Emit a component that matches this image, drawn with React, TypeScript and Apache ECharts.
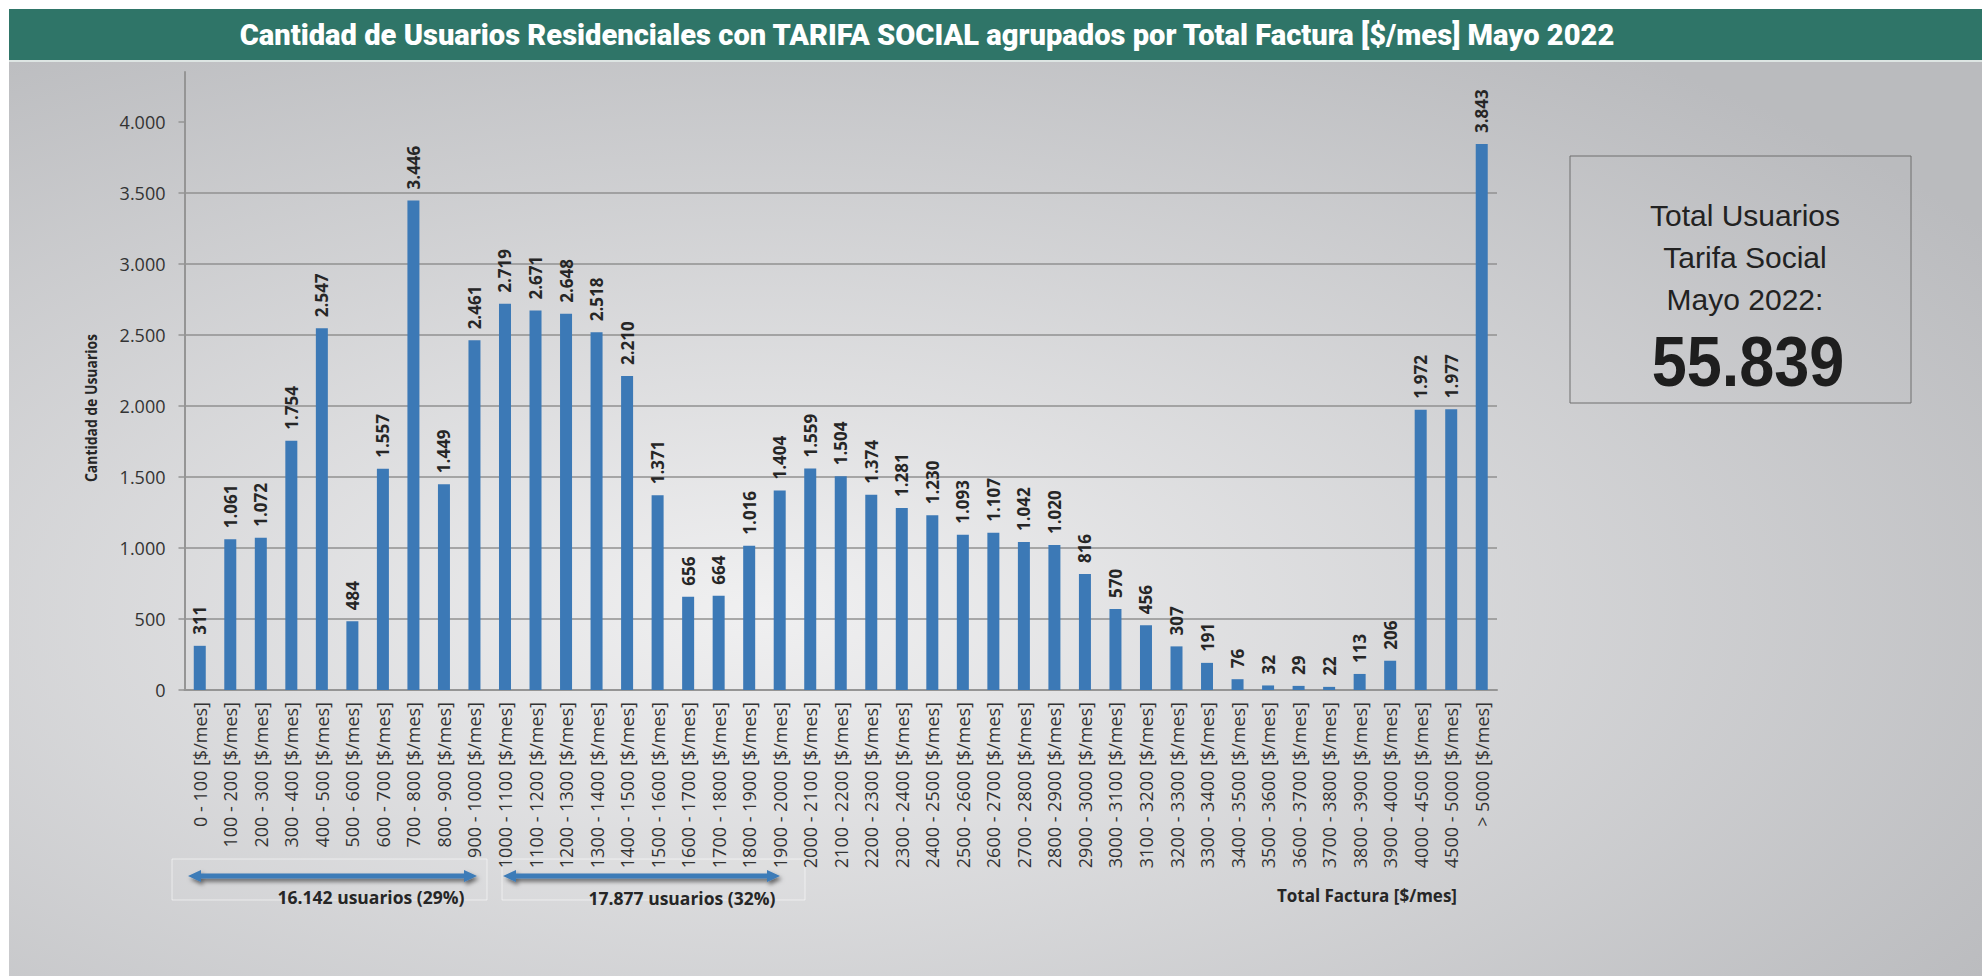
import React, { useEffect, useRef } from "react";
import * as echarts from "echarts";

const categories = [
  "0 - 100 [$/mes]", "100 - 200 [$/mes]", "200 - 300 [$/mes]", "300 - 400 [$/mes]", "400 - 500 [$/mes]",
  "500 - 600 [$/mes]", "600 - 700 [$/mes]", "700 - 800 [$/mes]", "800 - 900 [$/mes]", "900 - 1000 [$/mes]",
  "1000 - 1100 [$/mes]", "1100 - 1200 [$/mes]", "1200 - 1300 [$/mes]", "1300 - 1400 [$/mes]", "1400 - 1500 [$/mes]",
  "1500 - 1600 [$/mes]", "1600 - 1700 [$/mes]", "1700 - 1800 [$/mes]", "1800 - 1900 [$/mes]", "1900 - 2000 [$/mes]",
  "2000 - 2100 [$/mes]", "2100 - 2200 [$/mes]", "2200 - 2300 [$/mes]", "2300 - 2400 [$/mes]", "2400 - 2500 [$/mes]",
  "2500 - 2600 [$/mes]", "2600 - 2700 [$/mes]", "2700 - 2800 [$/mes]", "2800 - 2900 [$/mes]", "2900 - 3000 [$/mes]",
  "3000 - 3100 [$/mes]", "3100 - 3200 [$/mes]", "3200 - 3300 [$/mes]", "3300 - 3400 [$/mes]", "3400 - 3500 [$/mes]",
  "3500 - 3600 [$/mes]", "3600 - 3700 [$/mes]", "3700 - 3800 [$/mes]", "3800 - 3900 [$/mes]", "3900 - 4000 [$/mes]",
  "4000 - 4500 [$/mes]", "4500 - 5000 [$/mes]", "> 5000 [$/mes]",
];

const usuarios = [
  311, 1061, 1072, 1754, 2547, 484, 1557, 3446, 1449, 2461,
  2719, 2671, 2648, 2518, 2210, 1371, 656, 664, 1016, 1404,
  1559, 1504, 1374, 1281, 1230, 1093, 1107, 1042, 1020, 816,
  570, 456, 307, 191, 76, 32, 29, 22, 113, 206,
  1972, 1977, 3843,
];

const yTicks = [0, 500, 1000, 1500, 2000, 2500, 3000, 3500, 4000];

const titleText =
  "Cantidad de Usuarios Residenciales con TARIFA SOCIAL agrupados por Total Factura [$/mes] Mayo 2022";
const boxLines = ["Total Usuarios", "Tarifa Social", "Mayo 2022:"];
const totalText = "55.839";
const groupTexts = ["16.142 usuarios (29%)", "17.877 usuarios (32%)"];

const fmt = (v: number) => String(v).replace(/\B(?=(\d{3})+(?!\d))/g, ".");

function arrowPoints(x1: number, x2: number, y: number) {
  const h = 13, w = 6, t = 2.5;
  return [
    [x1, y], [x1 + h, y - w], [x1 + h, y - t], [x2 - h, y - t], [x2 - h, y - w],
    [x2, y], [x2 - h, y + w], [x2 - h, y + t], [x1 + h, y + t], [x1 + h, y + w],
  ];
}

export default function App() {
  const ref = useRef<HTMLDivElement>(null);
  useEffect(() => {
    document.body.style.margin = "0";
    const chart = echarts.init(ref.current!, null, { renderer: "svg" });
    const axisColor = "#959595";
    const arrowStyle = {
      fill: "#3d7bb8",
      shadowBlur: 4,
      shadowColor: "rgba(0,0,0,0.55)",
      shadowOffsetX: 2,
      shadowOffsetY: 3,
    };
    chart.setOption({
      animation: false,
      backgroundColor: "#ffffff",
      grid: { left: 184.5, right: 485, top: 72, bottom: 286, containLabel: false },
      xAxis: {
        type: "category",
        data: categories,
        axisLine: { lineStyle: { color: axisColor, width: 2 } },
        axisTick: { length: 5, lineStyle: { color: axisColor, width: 1.5 } },
        axisLabel: {
          rotate: 90,
          interval: 0,
          margin: 12,
          fontFamily: "Open Sans",
          fontSize: 18,
          color: "#333333",
        },
      },
      yAxis: {
        type: "value",
        min: 0,
        max: 4350,
        interval: 500,
        axisLine: { show: true, lineStyle: { color: axisColor, width: 2 } },
        axisTick: { show: true, length: 6, customValues: yTicks, lineStyle: { color: axisColor, width: 1.5 } },
        axisLabel: {
          showMaxLabel: false,
          margin: 19,
          formatter: (v: number) => fmt(v),
          fontFamily: "Open Sans",
          fontSize: 18,
          color: "#333333",
        },
        splitLine: { showMaxLine: false, lineStyle: { color: "#909090", width: 1.5 } },
      },
      series: [
        {
          type: "bar",
          data: usuarios,
          barWidth: 12,
          itemStyle: { color: "#3c79b6" },
          label: {
            show: true,
            position: "top",
            rotate: 90,
            align: "left",
            verticalAlign: "middle",
            distance: 11,
            formatter: (p: any) => fmt(p.value),
            fontFamily: "Open Sans",
            fontWeight: "bold",
            fontSize: 17,
            color: "#262626",
          },
        },
      ],
      graphic: [
        {
          type: "rect",
          z: -10,
          silent: true,
          shape: { x: 9, y: 62, width: 1973, height: 914 },
          style: {
            fill: new echarts.graphic.RadialGradient(0.38, 0.6, 0.75, [
              { offset: 0, color: "#f0f0f1" },
              { offset: 1, color: "#babbbe" },
            ]),
          },
        },
        {
          type: "rect",
          z: -9,
          silent: true,
          shape: { x: 9, y: 9, width: 1973, height: 51 },
          style: { fill: "#2f7568" },
        },
        {
          type: "rect",
          z: -9,
          silent: true,
          shape: { x: 9, y: 60, width: 1973, height: 2 },
          style: { fill: "#dde5e3" },
        },
        {
          type: "text",
          x: 927,
          y: 35,
          scaleX: 0.97,
          style: {
            text: titleText,
            fill: "#ffffff",
            font: "900 30px Roboto",
            align: "center",
            verticalAlign: "middle",
          },
        },
        {
          type: "text",
          x: 91,
          y: 408,
          rotation: Math.PI / 2,
          scaleX: 0.87,
          style: {
            text: "Cantidad de Usuarios",
            fill: "#262626",
            font: "bold 16px 'Open Sans'",
            align: "center",
            verticalAlign: "middle",
          },
        },
        {
          type: "text",
          x: 1457,
          y: 895,
          style: {
            text: "Total Factura [$/mes]",
            fill: "#262626",
            font: "bold 17px 'Open Sans'",
            align: "right",
            verticalAlign: "middle",
          },
        },
        {
          type: "rect",
          shape: { x: 1570, y: 156, width: 341, height: 247 },
          style: { fill: "none", stroke: "#6e6e6e", lineWidth: 1 },
        },
        ...boxLines.map((t, i) => ({
          type: "text",
          x: 1745,
          y: 215 + i * 42,
          style: {
            text: t,
            fill: "#222222",
            font: "30px 'Liberation Sans'",
            align: "center",
            verticalAlign: "middle",
          },
        })),
        {
          type: "text",
          x: 1748,
          y: 362,
          scaleX: 0.9,
          style: {
            text: totalText,
            fill: "#1e1e1e",
            font: "bold 70px 'Liberation Sans'",
            align: "center",
            verticalAlign: "middle",
          },
        },
        {
          type: "rect",
          shape: { x: 172, y: 859, width: 315, height: 41 },
          style: { fill: "rgba(255,255,255,0.06)", stroke: "rgba(255,255,255,0.55)", lineWidth: 1 },
        },
        {
          type: "rect",
          shape: { x: 502, y: 859, width: 303, height: 41 },
          style: { fill: "rgba(255,255,255,0.06)", stroke: "rgba(255,255,255,0.55)", lineWidth: 1 },
        },
        { type: "polygon", shape: { points: arrowPoints(188, 477, 876) }, style: arrowStyle },
        { type: "polygon", shape: { points: arrowPoints(503, 780, 876) }, style: arrowStyle },
        {
          type: "text",
          x: 371,
          y: 897,
          style: {
            text: groupTexts[0],
            fill: "#262626",
            font: "bold 17.5px 'Open Sans'",
            align: "center",
            verticalAlign: "middle",
          },
        },
        {
          type: "text",
          x: 682,
          y: 898,
          style: {
            text: groupTexts[1],
            fill: "#262626",
            font: "bold 17.5px 'Open Sans'",
            align: "center",
            verticalAlign: "middle",
          },
        },
      ],
    });
    return () => chart.dispose();
  }, []);
  return <div ref={ref} style={{ width: 1982, height: 976 }} />;
}
